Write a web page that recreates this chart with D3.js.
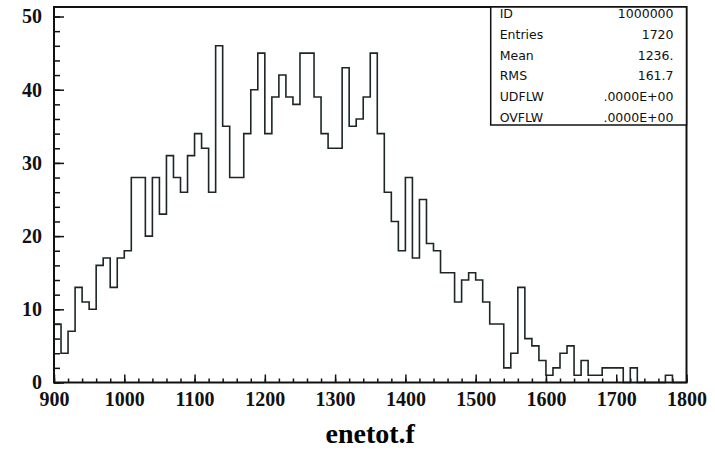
<!DOCTYPE html>
<html>
<head>
<meta charset="utf-8">
<script src="https://cdn.jsdelivr.net/npm/d3@7"></script>
<style>
  body { margin: 0; background: #fff; }
  svg { display: block; }
  .tick text { font-family: "Liberation Serif", "Times New Roman", serif; font-weight: bold; font-size: 20px; fill: #111; }
  .stats text { font-family: "DejaVu Sans", sans-serif; font-size: 12.5px; fill: #111; }
</style>
</head>
<body>
<div class="chart"></div>
<script>
// histogram enetot.f : 90 bins, 900 -> 1800
var xMin = 900, xMax = 1800, binWidth = 10;
var counts = [
   8,  4,  7, 13, 11, 10, 16, 17, 13, 17,   // 900 - 990
  18, 28, 28, 20, 28, 23, 31, 28, 26, 31,   // 1000 - 1090
  34, 32, 26, 46, 35, 28, 28, 34, 40, 45,   // 1100 - 1190
  34, 39, 42, 39, 38, 45, 45, 39, 34, 32,   // 1200 - 1290
  32, 43, 35, 36, 39, 45, 34, 26, 22, 18,   // 1300 - 1390
  28, 17, 25, 19, 18, 15, 15, 11, 14, 15,   // 1400 - 1490
  14, 11,  8,  8,  2,  4, 13,  6,  5,  3,   // 1500 - 1590
   1,  2,  4,  5,  1,  3,  1,  1,  2,  2,   // 1600 - 1690
   2,  0,  2,  0,  0,  0,  0,  1,  0,  0    // 1700 - 1790
];
var xTicks = [900, 1000, 1100, 1200, 1300, 1400, 1500, 1600, 1700, 1800];
var yTicks = [0, 10, 20, 30, 40, 50];
var statLabels = ["ID", "Entries", "Mean", "RMS", "UDFLW", "OVFLW"];
var statValues = ["1000000", "1720", "1236.", "161.7", ".0000E+00", ".0000E+00"];
var title = "enetot.f";

var margin = {top: 7, left: 54},
    area = {width: 632.5, height: 375.5};

var x = d3.scaleLinear().domain([xMin, xMax]).range([0, area.width]);
var y = d3.scaleLinear().domain([0, 51.3]).range([area.height, 0]);

var svg = d3.select("div.chart").append("svg")
    .attr("width", 715)
    .attr("height", 451);

var g = svg.append("g")
    .attr("transform", "translate(" + margin.left + "," + margin.top + ")");

// 目盛り (minor ticks)
g.append("g")
    .attr("transform", "translate(0," + area.height + ")")
    .call(d3.axisBottom(x).tickValues(d3.range(xMin, xMax + 1, 20)).tickSize(-4).tickFormat(""));
g.append("g")
    .call(d3.axisLeft(y).tickValues(d3.range(0, 51, 2)).tickSize(-6).tickFormat(""));

// major ticks + labels
g.append("g")
    .attr("transform", "translate(0," + area.height + ")")
    .call(d3.axisBottom(x).tickValues(xTicks).tickSize(-8).tickPadding(9).tickFormat(d3.format("d")));
g.append("g")
    .call(d3.axisLeft(y).tickValues(yTicks).tickSize(-10).tickPadding(12).tickFormat(d3.format("d")));

g.selectAll(".domain").remove();
g.selectAll(".tick line").attr("stroke", "#111").attr("stroke-width", 1.5);

// histogram outline
var pts = [[xMin, 0]];
counts.forEach(function(c, i) { pts.push([xMin + i * binWidth, c]); });
pts.push([xMax, counts[counts.length - 1]]);
pts.push([xMax, 0]);

var line = d3.line()
    .x(function(d) { return x(d[0]); })
    .y(function(d) { return y(d[1]); })
    .curve(d3.curveStepAfter);

g.append("path")
    .datum(pts)
    .attr("d", line)
    .attr("fill", "none")
    .attr("stroke", "#1c2626")
    .attr("stroke-width", 1.6);

// frame
g.append("rect")
    .attr("width", area.width)
    .attr("height", area.height)
    .attr("fill", "none")
    .attr("stroke", "#111")
    .attr("stroke-width", 2);

// stats box
var box = {left: 436.7, width: area.width - 436.7, height: 118, row: 20.7, first: 7};
var stats = g.append("g").attr("class", "stats");
stats.append("rect")
    .attr("x", box.left)
    .attr("y", 0)
    .attr("width", box.width)
    .attr("height", box.height)
    .attr("fill", "#fff")
    .attr("stroke", "#111")
    .attr("stroke-width", 1.5);
statLabels.forEach(function(s, i) {
    stats.append("text")
        .attr("x", box.left + 9)
        .attr("y", box.first + i * box.row)
        .attr("dy", "0.35em")
        .text(s);
    stats.append("text")
        .attr("x", area.width - 13)
        .attr("y", box.first + i * box.row)
        .attr("dy", "0.35em")
        .attr("text-anchor", "end")
        .text(statValues[i]);
});

// x title
svg.append("text")
    .attr("x", margin.left + area.width / 2)
    .attr("y", 443)
    .attr("text-anchor", "middle")
    .style("font-family", "'Liberation Serif', 'Times New Roman', serif")
    .style("font-weight", "bold")
    .style("font-size", "28px")
    .text(title);
</script>
</body>
</html>
